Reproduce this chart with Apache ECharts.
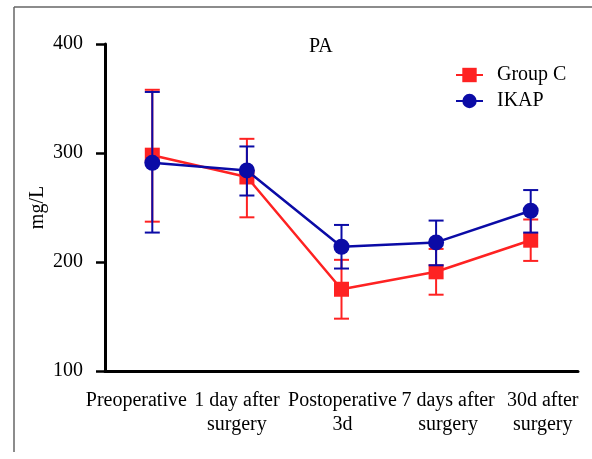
<!DOCTYPE html>
<html>
<head>
<meta charset="utf-8">
<script src="https://cdn.jsdelivr.net/npm/echarts@6/dist/echarts.min.js"></script>
<style>html,body{margin:0;padding:0;background:#fff;}#c{width:592px;height:459px;}</style>
</head>
<body>
<div id="c"></div>
<script>
const categories = ['Preoperative', '1 day after\nsurgery', 'Postoperative\n3d', '7 days after\nsurgery', '30d after\nsurgery'];
const yTicks = [100, 200, 300, 400];
const groupCMean = [298, 278, 175, 191, 220];
const groupCLow  = [237, 241, 148, 170, 201];
const groupCHigh = [358, 313, 202, 212, 239];
const ikapMean = [291, 284, 214, 218, 247];
const ikapLow  = [227, 261, 194, 197, 227];
const ikapHigh = [356, 306, 234, 238, 266];

const RED = '#fe2222';
const BLUE = '#0b0ba6';
const FONT = 'Liberation Serif';

// horizontal nudge of each category label (label block sits beside its neighbours, not centred on tick)
const labelShift = [-16, -10, 1, 12, 12];
const rich = {};
labelShift.forEach(function (s, i) {
  rich['r' + i] = {
    fontFamily: FONT, fontSize: 20, color: '#000', lineHeight: 24,
    padding: s < 0 ? [0, -2 * s, 0, 0] : [0, 0, 0, 2 * s]
  };
});

function errData(lo, hi) { return lo.map((v, i) => [i, v, hi[i]]); }
function errSeries(lo, hi, color, z) {
  return {
    type: 'custom', z: z, silent: true,
    data: errData(lo, hi),
    encode: { x: 0, y: [1, 2] },
    renderItem: function (params, api) {
      const i = api.value(0);
      const a = api.coord([i, api.value(1)]);
      const b = api.coord([i, api.value(2)]);
      const hw = 7.5;
      const st = { stroke: color, lineWidth: 2 };
      return { type: 'group', children: [
        { type: 'line', shape: { x1: a[0], y1: a[1], x2: b[0], y2: b[1] }, style: st },
        { type: 'line', shape: { x1: a[0] - hw, y1: a[1], x2: a[0] + hw, y2: a[1] }, style: st },
        { type: 'line', shape: { x1: b[0] - hw, y1: b[1], x2: b[0] + hw, y2: b[1] }, style: st }
      ]};
    }
  };
}

const chart = echarts.init(document.getElementById('c'), null, { renderer: 'canvas' });
chart.setOption({
  animation: false,
  backgroundColor: '#fff',
  title: { text: 'PA', left: 309, top: 37, padding: 0, textStyle: { fontFamily: FONT, fontSize: 20, fontWeight: 'normal', color: '#000' } },
  legend: {
    data: ['Group C', 'IKAP'], orient: 'vertical', left: 455, top: 65, padding: 0,
    itemWidth: 27, itemHeight: 18, itemGap: 6,
    textStyle: { fontFamily: FONT, fontSize: 20, color: '#000', padding: [0, 0, 0, 9] }
  },
  graphic: [
    { type: 'line', shape: { x1: 14, y1: 7, x2: 592, y2: 7 }, style: { stroke: '#666', lineWidth: 1.5 } },
    { type: 'line', shape: { x1: 14, y1: 7, x2: 14, y2: 452 }, style: { stroke: '#666', lineWidth: 1.5 } }
  ],
  grid: { left: 105, right: 14, top: 44, bottom: 88, containLabel: false },
  xAxis: {
    type: 'category', data: categories, boundaryGap: true,
    axisLine: { lineStyle: { color: '#000', width: 3 } },
    axisTick: { alignWithLabel: true, length: 8, lineStyle: { color: '#000', width: 2.5 } },
    axisLabel: {
      interval: 0, margin: 18, fontFamily: FONT, fontSize: 20, color: '#000', lineHeight: 24,
      rich: rich,
      formatter: function (val, idx) {
        return val.split('\n').map(function (l) { return '{r' + idx + '|' + l + '}'; }).join('\n');
      }
    }
  },
  yAxis: {
    type: 'value', min: yTicks[0], max: yTicks[yTicks.length - 1], interval: 100,
    name: 'mg/L', nameLocation: 'middle', nameGap: 57, nameRotate: 90, nameMoveOverlap: false,
    nameTextStyle: { fontFamily: FONT, fontSize: 20, color: '#000' },
    axisLine: { show: true, lineStyle: { color: '#000', width: 3 } },
    axisTick: { show: true, length: 9, lineStyle: { color: '#000', width: 2.5 } },
    axisLabel: { margin: 22, fontFamily: FONT, fontSize: 20, color: '#000' },
    splitLine: { show: false }
  },
  series: [
    errSeries(groupCLow, groupCHigh, RED, 2),
    { name: 'Group C', type: 'line', data: groupCMean, z: 3, symbol: 'rect', symbolSize: 15,
      lineStyle: { color: RED, width: 2.5 }, itemStyle: { color: RED } },
    errSeries(ikapLow, ikapHigh, BLUE, 4),
    { name: 'IKAP', type: 'line', data: ikapMean, z: 5, symbol: 'circle', symbolSize: 16,
      lineStyle: { color: BLUE, width: 2.5 }, itemStyle: { color: BLUE } }
  ]
});
</script>
</body>
</html>
